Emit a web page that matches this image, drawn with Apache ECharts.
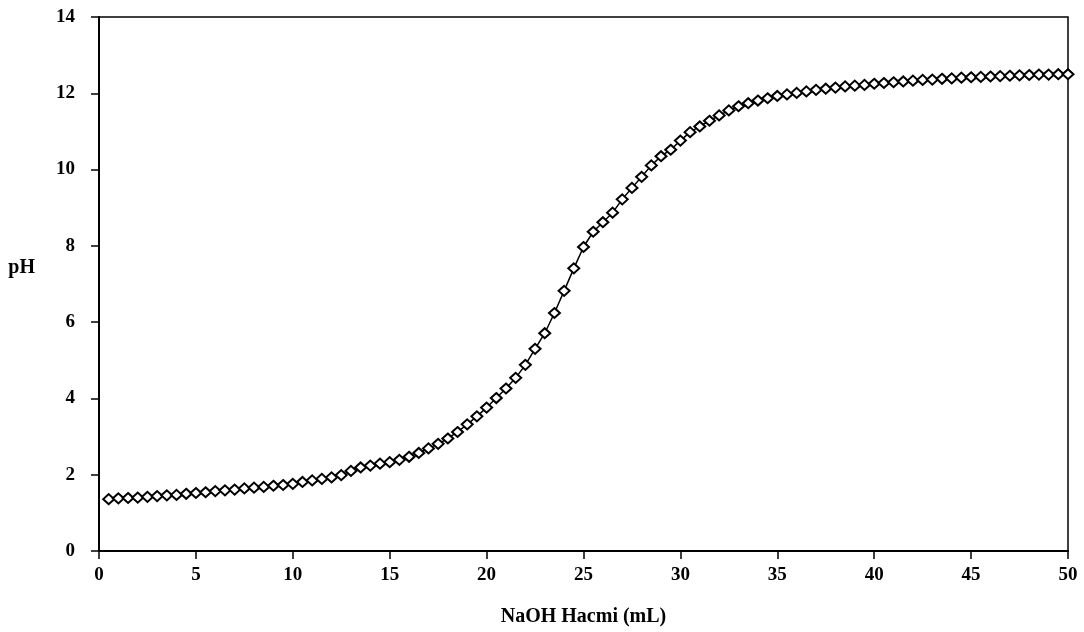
<!DOCTYPE html>
<html>
<head>
<meta charset="utf-8">
<script src="https://cdn.jsdelivr.net/npm/echarts@6/dist/echarts.min.js"></script>
<style>
html,body{margin:0;padding:0;background:#fff;}
#chart{width:1084px;height:632px;}
</style>
</head>
<body>
<div id="chart"></div>
<script>
const volumes = [0.5,1,1.5,2,2.5,3,3.5,4,4.5,5,5.5,6,6.5,7,7.5,8,8.5,9,9.5,10,
10.5,11,11.5,12,12.5,13,13.5,14,14.5,15,15.5,16,16.5,17,17.5,18,18.5,19,19.5,20,
20.5,21,21.5,22,22.5,23,23.5,24,24.5,25,25.5,26,26.5,27,27.5,28,28.5,29,29.5,30,
30.5,31,31.5,32,32.5,33,33.5,34,34.5,35,35.5,36,36.5,37,37.5,38,38.5,39,39.5,40,
40.5,41,41.5,42,42.5,43,43.5,44,44.5,45,45.5,46,46.5,47,47.5,48,48.5,49,49.5,50];
const phValues = [1.36,1.38,1.39,1.40,1.42,1.44,1.46,1.47,1.50,1.52,
1.54,1.57,1.59,1.61,1.64,1.66,1.68,1.71,1.73,1.76,
1.81,1.85,1.89,1.93,1.99,2.10,2.19,2.24,2.29,2.33,
2.39,2.47,2.57,2.69,2.81,2.95,3.12,3.32,3.53,3.76,
4.01,4.26,4.54,4.88,5.30,5.71,6.24,6.82,7.41,7.97,
8.37,8.62,8.87,9.22,9.52,9.81,10.11,10.35,10.52,10.76,
10.98,11.13,11.28,11.42,11.55,11.66,11.74,11.81,11.87,11.93,
11.97,12.01,12.05,12.09,12.12,12.15,12.18,12.20,12.22,12.25,
12.27,12.29,12.31,12.33,12.35,12.36,12.38,12.39,12.41,12.42,
12.43,12.44,12.45,12.46,12.47,12.48,12.49,12.49,12.50,12.50];
const xTitle = 'NaOH Hacmi (mL)';
const yTitle = 'pH';

const points = volumes.map((v, i) => [v, phValues[i]]);
const font = '"Liberation Serif", "DejaVu Serif", serif';

const chart = echarts.init(document.getElementById('chart'));
chart.setOption({
  animation: false,
  backgroundColor: '#fff',
  grid: {left: 99, right: 16, top: 17, bottom: 79, show: true, borderColor: '#000', borderWidth: 1.5},
  xAxis: {
    type: 'value', min: 0, max: 50, interval: 5,
    name: xTitle, nameLocation: 'middle', nameGap: 56,
    nameTextStyle: {fontFamily: font, fontWeight: 'bold', fontSize: 20, color: '#000'},
    axisLine: {show: true, lineStyle: {color: '#000', width: 2}},
    axisTick: {show: true, length: 8, lineStyle: {color: '#000', width: 1.5}},
    axisLabel: {fontFamily: font, fontWeight: 'bold', fontSize: 19, color: '#000', margin: 15},
    splitLine: {show: false}
  },
  yAxis: {
    type: 'value', min: 0, max: 14, interval: 2,
    name: yTitle, nameLocation: 'middle', nameGap: 64, nameRotate: 0,
    nameTextStyle: {fontFamily: font, fontWeight: 'bold', fontSize: 20, color: '#000', verticalAlign: 'bottom', padding: [0, 0, 6, 0]},
    axisLine: {show: true, lineStyle: {color: '#000', width: 2}},
    axisTick: {show: true, length: 8, lineStyle: {color: '#000', width: 1.5}},
    axisLabel: {fontFamily: font, fontWeight: 'bold', fontSize: 19, color: '#000', margin: 24},
    splitLine: {show: false}
  },
  series: [{
    type: 'line',
    data: points,
    symbol: 'diamond',
    symbolSize: [11, 10],
    showAllSymbol: true,
    lineStyle: {color: '#000', width: 1.5},
    itemStyle: {color: '#fff', borderColor: '#000', borderWidth: 2}
  }]
});
</script>
</body>
</html>
